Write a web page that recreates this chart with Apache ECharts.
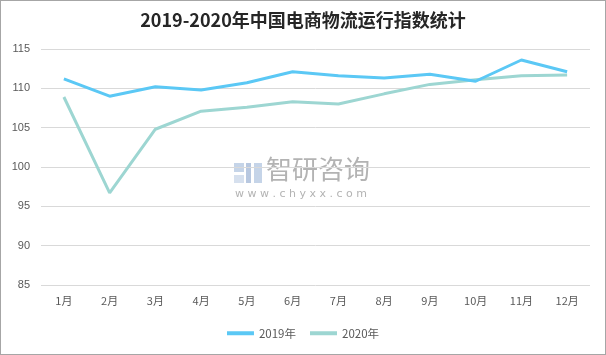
<!DOCTYPE html>
<html><head><meta charset="utf-8">
<script src="https://cdn.jsdelivr.net/npm/echarts@6/dist/echarts.min.js"></script>
<style>html,body{margin:0;padding:0;background:#fff}#c{width:606px;height:355px;box-sizing:border-box;border:1px solid #a6a6a6}</style>
</head><body><div id="c"></div>
<script>
const categories = ['1月','2月','3月','4月','5月','6月','7月','8月','9月','10月','11月','12月'];
const s2019 = [111.2, 109.0, 110.2, 109.8, 110.7, 112.1, 111.6, 111.3, 111.8, 110.9, 113.6, 112.1];
const s2020 = [108.9, 96.7, 104.8, 107.1, 107.6, 108.3, 108.0, 109.3, 110.5, 111.1, 111.6, 111.7];
const yTicks = {min: 85, max: 115, interval: 5};

const chart = echarts.init(document.getElementById('c'));
chart.setOption({
  animation: false,
  title: {text: '2019-2020年中国电商物流运行指数统计', left: 'center', top: 5,
    textStyle: {fontFamily: 'Noto Sans CJK SC', fontSize: 18, fontWeight: 'bold', color: '#262626'}},
  graphic: [
    {type: 'rect', left: 233, top: 162, shape: {width: 10, height: 9}, style: {fill: '#c5d4e8'}, z: 0},
    {type: 'rect', left: 245, top: 162, shape: {width: 5, height: 20}, style: {fill: '#b8c8e0'}, z: 0},
    {type: 'rect', left: 233, top: 174, shape: {width: 10, height: 8}, style: {fill: '#d6e0ee'}, z: 0},
    {type: 'rect', left: 253, top: 162, shape: {width: 8, height: 20}, style: {fill: '#c5d4e8'}, z: 0},
    {type: 'text', left: 265, top: 155, style: {text: '智研咨询', fill: '#b3b3b3', font: '26px "Noto Sans CJK SC"'}, z: 0},
    {type: 'text', left: 234, top: 188, style: {text: 'w w w . c h y x x . c o m', fill: '#b3b3b3', font: '11px "DejaVu Sans"'}, z: 0}
  ],
  legend: {bottom: 10, left: 'center', itemWidth: 27, itemHeight: 4, itemGap: 14, icon: 'rect',
    textStyle: {color: '#595959', fontSize: 11.5, fontFamily: 'Noto Sans CJK SC'},
    data: ['2019年', '2020年']},
  grid: {left: 40, right: 15, top: 48, bottom: 69, containLabel: false},
  xAxis: {type: 'category', data: categories, boundaryGap: true,
    axisLine: {show: false}, axisTick: {show: false},
    axisLabel: {color: '#595959', fontSize: 11, margin: 10, fontFamily: 'Noto Sans CJK SC'}},
  yAxis: {type: 'value', min: yTicks.min, max: yTicks.max, interval: yTicks.interval,
    axisLine: {show: false}, axisTick: {show: false},
    axisLabel: {color: '#595959', fontSize: 11, margin: 11, fontFamily: 'Liberation Sans'},
    splitLine: {lineStyle: {color: '#d9d9d9', width: 1}}},
  series: [
    {name: '2019年', type: 'line', data: s2019, symbol: 'none', z: 3,
      lineStyle: {color: '#5bc8f5', width: 3}, itemStyle: {color: '#5bc8f5'}},
    {name: '2020年', type: 'line', data: s2020, symbol: 'none', z: 2,
      lineStyle: {color: '#9dd6d2', width: 3}, itemStyle: {color: '#9dd6d2'}}
  ]
});
</script></body></html>
